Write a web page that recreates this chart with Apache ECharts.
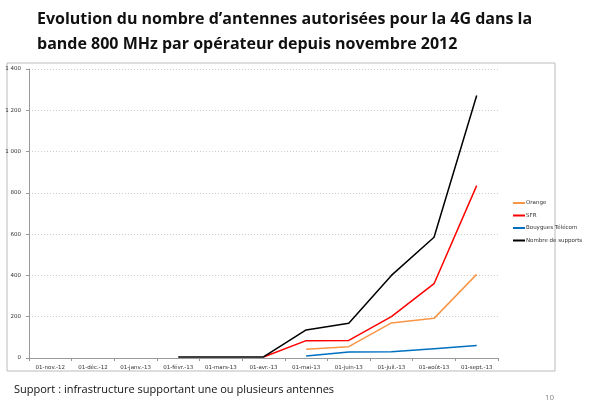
<!DOCTYPE html>
<html><head><meta charset="utf-8">
<script src="https://cdn.jsdelivr.net/npm/echarts@6/dist/echarts.min.js"></script>
<style>html,body{margin:0;padding:0;background:#fff}#c{width:600px;height:414px}</style>
</head><body><div id="c"></div>
<script>
const categories = ['01-nov.-12','01-déc.-12','01-janv.-13','01-févr.-13','01-mars-13','01-avr.-13','01-mai-13','01-juin-13','01-juil.-13','01-août-13','01-sept.-13'];
const orange = [null,null,null,null,null,null,42,55,170,192,405];
const sfr = [null,null,null,null,null,5,84,85,200,360,835];
const bouygues = [null,null,null,null,null,null,10,29,30,45,60];
const supports = [null,null,null,5,5,5,136,168,400,585,1272];
const yTicks = [0,200,400,600,800,1000,1200,1400];

const chart = echarts.init(document.getElementById('c'));
const lab = v => v >= 1000 ? String(v).replace(/(\d)(\d{3})$/, '$1 $2') : String(v);
chart.setOption({
  animation:false,
  title:[
    {text:'Evolution du nombre d\u2019antennes autorisées pour la 4G dans la\nbande 800 MHz par opérateur depuis novembre 2012',left:32,top:2,
     textStyle:{fontFamily:'Open Sans',fontWeight:'bold',fontSize:16,lineHeight:25,color:'#111'}},
    {text:'Support : infrastructure supportant une ou plusieurs antennes',left:9,top:379,textStyle:{fontFamily:'Open Sans',fontWeight:'normal',fontSize:11,color:'#111'}},
    {text:'10',left:540,top:389,textStyle:{fontFamily:'Open Sans',fontWeight:'normal',fontSize:8,color:'#888'}}
  ],
  graphic:[{type:'rect',shape:{x:7,y:63,width:548,height:308},style:{fill:'none',stroke:'#bbb',lineWidth:1},z:-1}],
  grid:{left:29,right:102,top:69,bottom:56,containLabel:false},
  legend:{orient:'vertical',left:508,top:195,itemGap:6.5,itemWidth:12,itemHeight:2,icon:'rect',
    textStyle:{fontFamily:'DejaVu Sans',fontSize:5.5,color:'#333',padding:[0,0,0,-4]},
    data:['Orange','SFR','Bouygues Télécom','Nombre de supports']},
  xAxis:{type:'category',data:categories,boundaryGap:true,
    axisLine:{lineStyle:{color:'#999'}},axisTick:{show:true,lineStyle:{color:'#999'},length:3},
    axisLabel:{fontFamily:'DejaVu Sans',fontSize:5.5,color:'#333',margin:7,interval:0}},
  yAxis:{type:'value',min:0,max:1400,interval:200,
    axisLine:{show:true,lineStyle:{color:'#999'}},axisTick:{show:true,length:3,lineStyle:{color:'#999'}},
    splitLine:{lineStyle:{color:'#ccc',type:[1,2]}},
    axisLabel:{fontFamily:'DejaVu Sans',fontSize:5.5,color:'#333',margin:8,formatter:v=>lab(v)}},
  series:[
    {name:'Orange',type:'line',data:orange,showSymbol:false,symbol:'none',lineStyle:{color:'#f79646',width:1.5},itemStyle:{color:'#f79646'}},
    {name:'SFR',type:'line',data:sfr,showSymbol:false,symbol:'none',lineStyle:{color:'#ff0000',width:1.5},itemStyle:{color:'#ff0000'}},
    {name:'Bouygues Télécom',type:'line',data:bouygues,showSymbol:false,symbol:'none',lineStyle:{color:'#0070c0',width:1.5},itemStyle:{color:'#0070c0'}},
    {name:'Nombre de supports',type:'line',data:supports,showSymbol:false,symbol:'none',lineStyle:{color:'#000',width:1.5},itemStyle:{color:'#000'}}
  ]
});
</script></body></html>
